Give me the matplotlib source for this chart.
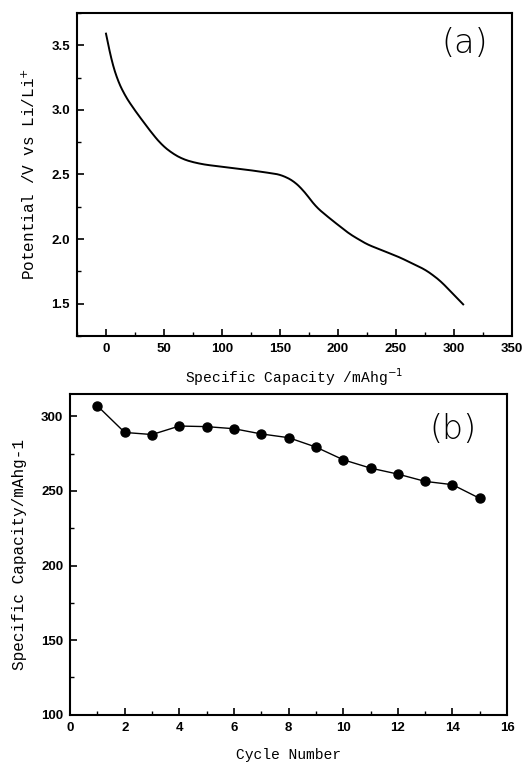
import numpy as np
import matplotlib
matplotlib.use('Agg')
import matplotlib.pyplot as plt
from matplotlib.ticker import MultipleLocator

# (a) 放电曲线
capacity = [0, 4, 8.6, 15, 23, 32, 40, 48, 57, 66, 75, 86, 101, 127, 150, 161, 170, 181, 193, 210, 225, 253, 276, 288, 308]
potential = [3.59, 3.40, 3.26, 3.13, 3.02, 2.91, 2.815, 2.73, 2.665, 2.62, 2.595, 2.575, 2.56, 2.53, 2.50, 2.455, 2.38, 2.25, 2.16, 2.04, 1.96, 1.86, 1.76, 1.68, 1.495]

# (b) 循环性能
cycle = [1, 2, 3, 4, 5, 6, 7, 8, 9, 10, 11, 12, 13, 14, 15]
cycle_capacity = [307, 289.2, 287.8, 293.5, 293.1, 291.7, 288.2, 285.7, 279.4, 270.9, 265.3, 261.3, 256.4, 254.2, 245.0]

label_font = 'Liberation Mono'
tick_font = 'Liberation Sans'

fig = plt.figure(figsize=(5.31, 7.62), dpi=100)
ax1 = fig.add_axes([0.145, 0.559, 0.819, 0.424])
ax2 = fig.add_axes([0.132, 0.062, 0.823, 0.421])


def style_axis(ax):
    for s in ax.spines.values():
        s.set_linewidth(1.5)
    ax.tick_params(which='both', direction='in', top=False, right=False)
    ax.tick_params(which='major', length=5, width=1.2, pad=5)
    ax.tick_params(which='minor', length=3, width=1.0)
    for lab in ax.get_xticklabels() + ax.get_yticklabels():
        lab.set_fontfamily(tick_font)
        lab.set_fontweight('bold')
        lab.set_fontsize(9.5)


# 平滑曲线，去掉折角
xs = np.linspace(0, 308, 400)
ys = np.interp(xs, capacity, potential)
k = np.ones(13) / 13
ys_s = np.convolve(np.pad(ys, 6, mode='reflect', reflect_type='odd'), k, mode='valid')
ax1.plot(xs, ys_s, color='black', lw=1.4)
ax1.set_xlim(-25, 350)
ax1.set_ylim(1.25, 3.75)
ax1.xaxis.set_minor_locator(MultipleLocator(25))
ax1.yaxis.set_minor_locator(MultipleLocator(0.25))
ax1.set_xticks(range(0, 351, 50))
ax1.set_yticks([1.5, 2.0, 2.5, 3.0, 3.5])
style_axis(ax1)
ax1.set_xlabel('Specific Capacity /mAhg$^{-1}$', family=label_font, fontsize=10.5, labelpad=8)
ax1.set_ylabel('Potential /V vs Li/Li$^{+}$', family=label_font, fontsize=11.5, labelpad=10)
ax1.text(0.892, 0.907, '(a)', transform=ax1.transAxes, ha='center', va='center',
         family='DejaVu Sans', fontweight='light', fontsize=24)

ax2.plot(cycle, cycle_capacity, color='black', lw=1.0, marker='o', markersize=6.5)
ax2.set_xlim(0, 16)
ax2.set_ylim(100, 315)
ax2.xaxis.set_major_locator(MultipleLocator(2))
ax2.xaxis.set_minor_locator(MultipleLocator(1))
ax2.yaxis.set_minor_locator(MultipleLocator(25))
ax2.set_yticks([100, 150, 200, 250, 300])
style_axis(ax2)
ax2.set_xlabel('Cycle Number', family=label_font, fontsize=10.5, labelpad=10)
ax2.set_ylabel('Specific Capacity/mAhg-1', family=label_font, fontsize=11.5, labelpad=10)
ax2.text(0.876, 0.888, '(b)', transform=ax2.transAxes, ha='center', va='center',
         family='DejaVu Sans', fontweight='light', fontsize=24)

fig.savefig('out.png', dpi=100)
